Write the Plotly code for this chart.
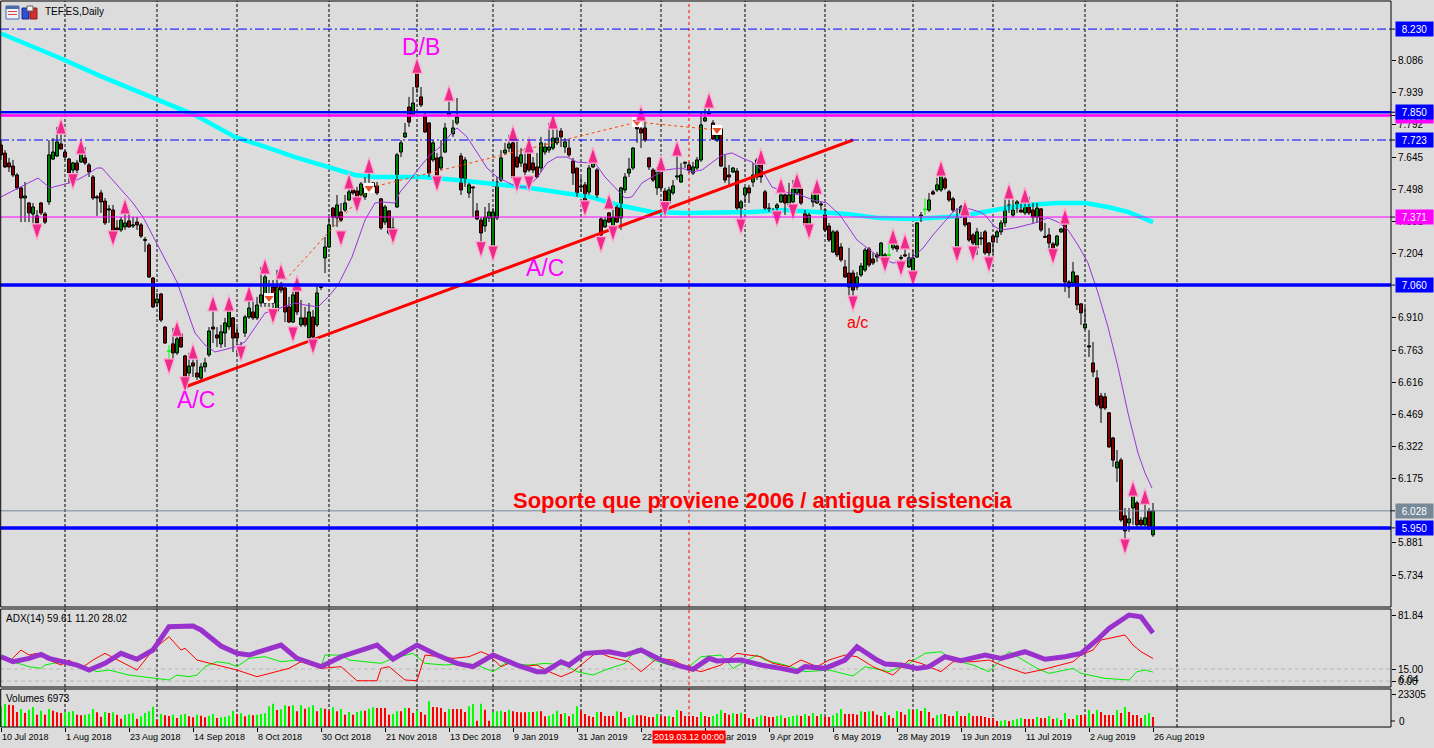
import plotly.graph_objects as go

# ---------------- data ----------------
N = 289
bar_idx = list(range(N))

date_labels = ["10 Jul 2018", "1 Aug 2018", "23 Aug 2018", "14 Sep 2018", "8 Oct 2018",
               "30 Oct 2018", "21 Nov 2018", "13 Dec 2018", "9 Jan 2019", "31 Jan 2019",
               "22 Feb 2019", "18 Mar 2019", "9 Apr 2019", "6 May 2019", "28 May 2019",
               "19 Jun 2019", "11 Jul 2019", "2 Aug 2019", "26 Aug 2019"]
date_label_idx = [0, 16, 32, 48, 64, 80, 96, 112, 128, 144, 160, 176, 192, 208, 224, 240, 256, 272, 288]
month_start_idx = [16, 39, 59, 82, 104, 123, 145, 165, 186, 206, 228, 248, 271, 294]

open_ = [7.700,7.663,7.618,7.604,7.563,7.504,7.458,7.435,7.385,7.376,
 7.435,7.385,7.440,7.636,7.650,7.705,7.668,7.636,7.586,7.618,
 7.623,7.641,7.609,7.554,7.463,7.481,7.444,7.408,7.403,7.321,
 7.312,7.326,7.353,7.330,7.348,7.335,7.268,7.243,7.092,6.978,
 7.019,6.868,6.756,6.791,6.750,6.836,6.736,6.658,6.704,6.658,
 6.635,6.686,6.741,6.868,6.832,6.791,6.841,6.869,6.910,6.841,
 6.768,6.841,6.914,6.937,6.910,6.978,6.978,7.015,7.051,6.942,
 7.060,7.047,6.960,6.891,7.047,6.878,6.910,6.818,6.914,6.878,
 7.053,7.184,7.234,7.412,7.367,7.394,7.403,7.449,7.499,7.490,
 7.472,7.463,7.509,7.527,7.513,7.454,7.348,7.399,7.298,7.417,
 7.668,7.737,7.874,7.837,8.034,7.920,7.833,7.801,7.632,7.641,
 7.595,7.668,7.837,7.751,7.801,7.650,7.540,7.481,7.506,7.399,
 7.357,7.330,7.367,7.207,7.367,7.540,7.664,7.686,7.710,7.645,
 7.618,7.614,7.677,7.618,7.600,7.595,7.668,7.677,7.686,7.710,
 7.764,7.691,7.686,7.627,7.595,7.511,7.518,7.485,7.600,7.586,
 7.362,7.326,7.390,7.326,7.417,7.367,7.495,7.572,7.595,7.783,
 7.774,7.778,7.641,7.586,7.504,7.604,7.490,7.435,7.481,7.554,
 7.531,7.617,7.609,7.572,7.595,7.632,7.810,7.842,7.801,7.723,
 7.774,7.595,7.563,7.577,7.581,7.412,7.472,7.504,7.531,7.554,
 7.645,7.486,7.412,7.394,7.412,7.440,7.472,7.426,7.440,7.481,
 7.499,7.394,7.321,7.440,7.435,7.431,7.403,7.330,7.211,7.303,
 7.234,7.143,7.115,7.115,7.051,7.106,7.129,7.225,7.179,7.198,
 7.184,7.166,7.195,7.230,7.238,7.184,7.198,7.143,7.124,7.188,
 7.357,7.403,7.403,7.486,7.495,7.495,7.545,7.486,7.454,7.207,
 7.380,7.394,7.344,7.289,7.230,7.275,7.303,7.252,7.284,7.280,
 7.303,7.344,7.426,7.380,7.412,7.403,7.390,7.426,7.403,7.371,
 7.408,7.280,7.289,7.248,7.243,7.303,7.367,7.074,7.070,7.102,
 6.974,6.864,6.782,6.704,6.635,6.553,6.549,6.476,6.361,6.224,
 6.260,6.005,5.973,6.041,6.064,5.986,5.964,6.027,5.918]

high = [7.719,7.677,7.641,7.632,7.572,7.509,7.531,7.440,7.435,7.403,
 7.440,7.394,7.723,7.732,7.783,7.783,7.677,7.641,7.623,7.632,
 7.686,7.691,7.618,7.563,7.472,7.495,7.458,7.426,7.426,7.357,
 7.371,7.417,7.403,7.371,7.371,7.344,7.280,7.252,7.097,7.024,
 7.024,6.873,6.786,6.864,6.864,6.841,6.741,6.750,6.741,6.732,
 6.704,6.727,6.868,6.978,6.868,6.878,6.910,6.983,6.914,6.868,
 6.800,6.923,7.024,6.992,7.006,7.143,7.143,7.083,7.083,7.129,
 7.074,7.051,7.006,7.051,7.051,6.992,6.960,6.978,6.946,7.056,
 7.060,7.280,7.371,7.417,7.472,7.435,7.472,7.531,7.509,7.509,
 7.531,7.554,7.609,7.531,7.531,7.458,7.426,7.403,7.367,7.664,
 7.723,7.801,7.920,7.965,8.080,7.965,7.847,7.805,7.723,7.664,
 7.723,7.801,7.929,7.814,7.915,7.664,7.645,7.527,7.509,7.435,
 7.371,7.417,7.435,7.412,7.554,7.677,7.710,7.746,7.746,7.723,
 7.686,7.686,7.737,7.645,7.664,7.737,7.710,7.801,7.792,7.778,
 7.778,7.732,7.723,7.641,7.595,7.554,7.531,7.609,7.655,7.595,
 7.371,7.371,7.394,7.403,7.426,7.509,7.572,7.641,7.691,7.814,
 7.847,7.824,7.645,7.595,7.600,7.609,7.504,7.509,7.540,7.677,
 7.618,7.623,7.623,7.623,7.645,7.847,7.883,7.901,7.814,7.783,
 7.783,7.655,7.609,7.600,7.595,7.449,7.509,7.518,7.618,7.641,
 7.650,7.495,7.435,7.412,7.435,7.495,7.481,7.527,7.540,7.531,
 7.509,7.403,7.390,7.495,7.509,7.440,7.412,7.344,7.312,7.312,
 7.252,7.175,7.230,7.129,7.120,7.161,7.230,7.234,7.207,7.211,
 7.257,7.207,7.257,7.266,7.266,7.198,7.257,7.207,7.220,7.348,
 7.394,7.458,7.481,7.495,7.550,7.595,7.554,7.495,7.463,7.412,
 7.426,7.403,7.348,7.298,7.321,7.303,7.312,7.257,7.289,7.312,
 7.357,7.463,7.486,7.449,7.449,7.435,7.463,7.463,7.435,7.435,
 7.412,7.344,7.321,7.257,7.289,7.321,7.371,7.083,7.166,7.106,
 6.978,6.960,6.855,6.800,6.672,6.567,6.567,6.480,6.366,6.306,
 6.270,6.041,6.041,6.114,6.073,6.000,6.091,6.041,6.064]

low = [7.632,7.595,7.577,7.554,7.495,7.348,7.348,7.348,7.344,7.298,
 7.380,7.339,7.426,7.632,7.645,7.680,7.632,7.527,7.527,7.563,
 7.618,7.609,7.554,7.449,7.376,7.390,7.335,7.344,7.275,7.303,
 7.303,7.312,7.321,7.321,7.312,7.275,7.211,7.092,6.955,6.960,
 6.891,6.791,6.686,6.718,6.741,6.773,6.594,6.626,6.640,6.626,
 6.626,6.663,6.732,6.795,6.777,6.773,6.777,6.855,6.754,6.741,
 6.741,6.823,6.905,6.900,6.900,6.960,6.960,6.960,6.914,6.937,
 7.024,6.891,6.887,6.887,6.923,6.868,6.868,6.809,6.772,6.868,
 7.037,7.115,7.230,7.326,7.326,7.348,7.394,7.444,7.472,7.417,
 7.463,7.449,7.481,7.486,7.472,7.312,7.335,7.289,7.280,7.412,
 7.645,7.732,7.783,7.828,7.938,7.874,7.755,7.554,7.623,7.527,
 7.586,7.664,7.828,7.737,7.792,7.472,7.509,7.458,7.371,7.357,
 7.234,7.303,7.348,7.175,7.357,7.531,7.655,7.668,7.540,7.595,
 7.600,7.563,7.577,7.572,7.550,7.577,7.655,7.664,7.677,7.700,
 7.691,7.664,7.645,7.518,7.463,7.486,7.412,7.472,7.595,7.458,
 7.234,7.321,7.344,7.303,7.344,7.312,7.481,7.554,7.586,7.710,
 7.686,7.714,7.586,7.531,7.472,7.495,7.412,7.435,7.472,7.540,
 7.527,7.595,7.572,7.563,7.586,7.623,7.805,7.837,7.723,7.714,
 7.600,7.527,7.509,7.572,7.403,7.326,7.435,7.435,7.509,7.540,
 7.527,7.403,7.394,7.380,7.357,7.435,7.380,7.417,7.435,7.472,
 7.426,7.321,7.303,7.417,7.431,7.403,7.303,7.257,7.207,7.188,
 7.166,7.092,7.006,6.969,7.037,7.097,7.120,7.143,7.152,7.166,
 7.175,7.161,7.175,7.220,7.211,7.166,7.188,7.138,7.083,7.184,
 7.348,7.380,7.394,7.472,7.486,7.486,7.495,7.440,7.394,7.198,
 7.367,7.326,7.257,7.243,7.198,7.243,7.198,7.147,7.198,7.252,
 7.289,7.326,7.390,7.371,7.390,7.390,7.380,7.380,7.344,7.344,
 7.303,7.275,7.211,7.184,7.234,7.298,7.028,7.001,7.051,6.946,
 6.878,6.855,6.731,6.640,6.503,6.430,6.489,6.316,6.229,6.160,
 5.977,5.859,5.932,5.964,5.955,5.955,5.955,5.940,5.909]

close = [7.655,7.600,7.600,7.563,7.504,7.458,7.467,7.390,7.417,7.344,
 7.390,7.348,7.655,7.668,7.714,7.682,7.645,7.572,7.618,7.586,
 7.677,7.618,7.577,7.458,7.458,7.440,7.344,7.403,7.289,7.312,
 7.357,7.344,7.326,7.335,7.335,7.284,7.264,7.097,6.960,6.996,
 6.900,6.795,6.756,6.750,6.814,6.777,6.640,6.690,6.690,6.640,
 6.686,6.704,6.850,6.859,6.818,6.846,6.887,6.951,6.818,6.818,
 6.754,6.914,6.955,6.910,6.969,7.015,7.097,7.001,6.978,7.051,
 7.037,6.937,6.891,7.015,6.937,6.910,6.878,6.937,6.823,7.024,
 7.049,7.234,7.335,7.371,7.426,7.357,7.435,7.486,7.481,7.426,
 7.522,7.504,7.486,7.509,7.481,7.321,7.417,7.298,7.321,7.655,
 7.710,7.755,7.805,7.892,7.965,7.883,7.760,7.572,7.710,7.554,
 7.645,7.778,7.847,7.778,7.828,7.495,7.632,7.518,7.504,7.362,
 7.298,7.371,7.394,7.394,7.531,7.641,7.677,7.705,7.550,7.600,
 7.655,7.577,7.586,7.586,7.554,7.710,7.691,7.691,7.732,7.732,
 7.737,7.714,7.655,7.572,7.472,7.508,7.435,7.595,7.645,7.472,
 7.289,7.357,7.348,7.371,7.348,7.504,7.554,7.590,7.686,7.774,
 7.755,7.723,7.600,7.540,7.586,7.504,7.417,7.495,7.513,7.559,
 7.563,7.619,7.586,7.600,7.632,7.792,7.824,7.851,7.728,7.746,
 7.604,7.540,7.554,7.595,7.412,7.440,7.504,7.481,7.563,7.632,
 7.554,7.412,7.403,7.390,7.426,7.472,7.435,7.472,7.499,7.518,
 7.435,7.335,7.380,7.481,7.499,7.426,7.312,7.266,7.303,7.198,
 7.175,7.097,7.051,7.037,7.097,7.147,7.220,7.152,7.161,7.188,
 7.252,7.198,7.195,7.252,7.225,7.182,7.193,7.184,7.184,7.344,
 7.380,7.403,7.449,7.476,7.518,7.581,7.504,7.449,7.403,7.380,
 7.417,7.335,7.266,7.252,7.303,7.271,7.207,7.207,7.257,7.303,
 7.344,7.412,7.408,7.403,7.440,7.394,7.426,7.390,7.371,7.412,
 7.312,7.278,7.252,7.211,7.284,7.316,7.074,7.051,7.120,6.969,
 6.933,6.882,6.777,6.663,6.512,6.498,6.498,6.320,6.260,6.251,
 5.986,5.936,5.991,6.110,5.964,5.964,5.996,5.955,6.028]

volume = [14280,16180,15710,15230,10470,12610,9760,12140,14040,8570,
 11420,8570,12610,11420,10230,9760,10230,10710,11190,8570,
 8090,8570,9040,12610,10230,7140,10470,9760,10230,8570,
 5710,8570,9040,9520,5710,7380,9760,10950,14280,5000,
 9040,8090,7620,8570,6190,8570,9040,7380,6660,8570,
 7850,6660,7850,9040,6190,6660,7140,7850,11420,9040,
 9520,7380,8570,8090,8570,9040,9520,14520,16420,11900,
 12380,15230,14520,15230,10950,15230,12850,13800,15230,10950,
 13330,12850,11420,13800,10950,12610,8570,10470,8570,10470,
 11420,11420,12850,13800,13330,13330,13330,8570,9040,10950,
 10950,13330,13330,9760,11420,10470,8570,18090,14040,13800,
 13330,10470,12610,12610,12610,12610,10470,14520,16180,4280,
 16420,12140,4280,10470,10950,11420,10470,12140,10950,10470,
 10230,10230,10470,10470,10950,10950,7380,7850,9040,11420,
 9040,9760,7380,9040,14520,11420,9040,7620,6900,10470,
 10470,7620,7620,7620,10950,10470,6190,6900,8090,8090,
 8090,7620,6900,6900,9040,7620,7380,7620,6900,11900,
 11190,7620,7620,7620,6900,10470,7620,6900,7620,9040,
 11900,9760,8570,9760,9040,10000,9040,6190,5470,6900,
 8090,7620,6900,6900,7620,8090,6190,6900,7620,8090,
 7620,9040,7620,9760,7620,9040,7140,6900,8090,9760,
 12610,9040,9040,9040,8570,10950,10470,10950,10950,8570,
 7620,10470,8090,6190,11190,10470,8570,12610,11900,12610,
 11190,13330,10470,6190,8090,9040,9040,7620,7620,11190,
 7620,7620,9760,7620,7620,7620,6900,6190,6190,4050,
 4280,4760,4050,4760,5470,6190,5470,5470,5470,6900,
 6190,6190,7620,5470,6190,4760,9760,5470,5470,8330,
 8330,8090,11900,9040,11900,10470,8330,8330,8330,11900,
 9760,14040,10470,8330,8330,6190,8330,9760,6973]

# moving averages
ma_fast_idx = [0,4.75,9.25,12.25,14.75,18,20.5,24,25.25,27.25,29.75,33,35.5,39,41.5,44,46.5,48.5,51,53.5,
 58.5,61,66,70.25,73.5,76,79.25,81.75,84.25,87.75,91,93.5,95.25,98.5,99.75,102.25,104.75,107.25,109.75,112.25,
 114,116.5,119,121.5,124,126.5,129,131.5,134,136.5,139,141.5,144,147.25,148.5,151,153.5,156,157.75,160.25,
 162.75,166,170.25,172.75,175.25,177.75,180.25,182.75,185.25,187.75,190.25,192.75,196,199.75,203,206.5,209.75,214,217.25,219.75,
 223,225.5,228,230.5,233,235.5,238,240.5,244.75,246,248.5,250.25,253.5,258.5,261.75,264.25,266.75,269.25,271.75,274.25,
 276.75,279.25,281.75,284.25,286,287.75]
ma_fast_val = [7.463,7.508,7.549,7.504,7.517,7.531,7.554,7.595,7.595,7.554,7.504,7.435,7.371,7.252,7.161,7.074,6.946,6.841,6.786,6.754,
 6.777,6.800,6.932,6.960,6.978,6.969,6.960,7.005,7.060,7.188,7.357,7.435,7.440,7.435,7.485,7.540,7.600,7.654,7.691,7.746,
 7.778,7.737,7.664,7.595,7.554,7.531,7.508,7.508,7.549,7.618,7.645,7.645,7.622,7.618,7.618,7.554,7.504,7.458,7.463,7.527,
 7.554,7.586,7.595,7.577,7.586,7.622,7.654,7.664,7.641,7.622,7.586,7.508,7.485,7.472,7.449,7.435,7.380,7.266,7.220,7.184,
 7.161,7.165,7.188,7.229,7.289,7.344,7.394,7.417,7.394,7.380,7.325,7.312,7.321,7.344,7.367,7.348,7.312,7.243,7.161,7.024,
 6.868,6.685,6.475,6.292,6.201,6.132]

ma_slow_idx = [0,7.25,14.75,24.75,37.25,48.5,58.5,63.5,68.5,73.5,78.5,83.5,88.5,93.5,98.5,105.5,114,122.25,130.5,139,
 147.25,154.25,162.75,171,179.25,187.75,196,203,211.5,219.75,228,236.5,241.5,248.5,256,264.25,271,276.75,281.75,288]
ma_slow_val = [8.210,8.157,8.098,8.016,7.920,7.837,7.737,7.709,7.677,7.645,7.618,7.586,7.563,7.554,7.554,7.554,7.540,7.526,7.508,7.485,
 7.463,7.426,7.394,7.389,7.389,7.394,7.403,7.394,7.385,7.366,7.362,7.371,7.380,7.403,7.426,7.435,7.435,7.417,7.394,7.348]

# ADX(14) lines
adx_idx = [0,3,7,10,12,16,19,22,26,30,34,38,42,48,50,55,59,62,65,70,74,80,85,89,94,98,104,109,114,118,
 123,129,134,136,140,142,146,152,156,160,165,169,173,177,179,185,190,195,199,201,206,211,214,219,221,225,229,232,236,240,
 246,250,256,261,266,270,274,277,282,285,288]
adx_val = [30.2,24.0,28.2,33.1,28.2,24.0,19.9,13.7,22.0,34.4,27.1,38.5,67.4,68.2,63.3,43.4,34.4,32.3,36.4,44.7,
 28.2,17.9,30.2,36.4,44.7,27.1,44.7,32.3,22.0,17.9,32.3,19.9,11.7,11.7,24.0,19.9,34.4,36.4,32.3,38.5,
 26.1,19.9,14.6,28.2,25.0,26.1,19.9,15.8,11.7,17.9,15.8,26.1,42.6,26.1,21.2,19.9,15.8,17.9,30.2,25.3,
 32.3,28.2,36.4,27.1,30.2,34.4,50.9,65.3,81.8,79.5,59.6]
mdi_idx = [0,2,5,7,9,11,15,17,20,23,26,30,34,38,39,42,45,46,49,54,59,64,69,72,75,80,85,89,91,94,
 95,97,101,104,106,110,113,117,120,122,125,127,130,134,137,140,143,149,152,157,160,164,168,172,175,180,184,190,193,197,
 200,204,207,211,214,218,222,223,227,230,235,238,243,247,251,256,260,263,268,270,273,275,277,281,283,285,288]
mdi_val = [30.2,24.0,38.5,32.3,34.4,28.2,19.9,26.1,15.8,26.1,34.4,24.0,13.7,38.5,42.6,55.0,38.5,40.6,26.1,19.9,
 13.7,5.5,11.7,15.8,24.0,15.8,17.9,0.5,0.5,0.5,15.8,17.9,1.4,0.5,32.3,30.2,28.2,30.2,36.4,32.3,
 17.9,22.0,17.9,19.9,11.7,5.5,11.7,36.4,30.2,24.0,11.7,28.2,26.1,15.8,11.7,19.9,34.4,30.2,22.0,17.9,
 26.1,17.9,26.1,32.3,30.2,17.9,9.6,7.5,26.1,22.0,11.7,24.0,24.0,26.1,17.9,9.6,13.7,17.9,24.0,32.3,
 38.5,50.9,52.9,57.1,44.7,36.4,28.02]
pdi_idx = [0,3,7,10,11,15,17,20,24,27,32,36,40,42,44,47,49,51,54,57,59,62,66,70,74,77,80,81,85,87,
 92,95,98,103,106,111,116,119,123,126,132,136,141,144,148,151,156,159,163,167,172,175,180,183,189,191,196,201,207,213,
 216,222,227,231,235,238,243,247,252,256,259,262,266,268,270,276,282,284,286,288]
pdi_val = [32.3,24.0,17.9,15.8,19.9,24.0,19.9,17.9,11.7,13.7,7.5,4.7,2.2,1.4,7.5,5.5,7.5,17.9,24.0,22.0,
 17.9,28.2,30.2,24.0,26.1,22.0,17.9,32.3,32.3,26.1,24.0,22.0,28.2,34.4,22.0,19.9,22.0,19.9,11.7,22.0,
 19.9,22.0,19.9,11.7,7.5,13.7,22.0,40.6,26.1,19.9,17.9,30.2,32.3,15.8,32.3,26.1,19.9,11.7,13.7,6.3,
 17.9,11.7,22.0,34.4,36.4,26.1,19.9,11.7,36.4,24.0,15.8,9.6,13.7,15.8,9.6,3.4,1.4,11.7,13.7,11.2]

# fractal arrows
frac_up_idx = [15,20,31,44,48,53,57,62,66,70,74,87,92,104,112,128,132,138,148,152,160,165,169,177,190,195,199,204,223,226,235,241,252,256,266,283,286]
frac_up_val = [7.824,7.732,7.458,6.900,6.795,7.015,7.015,7.060,7.184,7.161,7.106,7.572,7.645,8.102,7.975,7.792,7.737,7.847,7.691,7.481,
 7.883,7.655,7.723,7.943,7.686,7.554,7.577,7.550,7.321,7.298,7.632,7.449,7.527,7.508,7.412,6.169,6.132]
frac_dn_idx = [9,18,28,42,46,60,68,73,78,85,89,98,109,120,123,129,132,146,150,153,166,185,194,198,202,213,221,225,228,239,243,247,263,281]
frac_dn_val = [7.266,7.495,7.234,6.649,6.567,6.708,6.878,6.795,6.740,7.234,7.389,7.243,7.485,7.184,7.165,7.481,7.485,7.371,7.207,7.257,
 7.367,7.289,7.325,7.357,7.266,6.937,7.115,7.097,7.051,7.161,7.165,7.115,7.152,5.826]

# zigzag and trend line
zz_idx = [67, 92, 159, 179]
zz_val = [7.001, 7.504, 7.805, 7.769]
trend_idx = [46, 213]
trend_val = [6.594, 7.723]

# horizontal levels (price, colour, label)
levels = [(8.230, "#0000FF", "8.230"), (7.835, "#FF00FF", "7.835"), (7.850, "#0000FF", "7.850"),
          (7.723, "#0000FF", "7.723"), (7.371, "#FF00FF", "7.371"), (7.060, "#0000FF", "7.060"),
          (6.028, "#778899", "6.028"), (5.950, "#0000FF", "5.950")]
price_ticks = [8.086, 7.939, 7.792, 7.645, 7.498, 7.351, 7.204, 6.910, 6.763,
               6.616, 6.469, 6.322, 6.175, 5.881, 5.734]
crosshair_idx = 172
crosshair_label = "2019.03.12 00:00"

# ---------------- figure ----------------
W, H = 1434, 748
XR = 1391 / W
BG = "#DCDCDC"
FONT = "Liberation Sans, Arial, sans-serif"


def yp(px):
    return 1 - px / H


fig = go.Figure()

# volumes
vcol = ["#00FF00" if i == 0 or volume[i] > volume[i - 1] else "#FF0000" for i in range(N)]
fig.add_trace(go.Bar(x=bar_idx, y=volume, width=0.3, marker=dict(color=vcol, line=dict(width=0)),
                     xaxis="x", yaxis="y3", hoverinfo="skip"))

# ADX
fig.add_trace(go.Scatter(x=pdi_idx, y=pdi_val, mode="lines", line=dict(color="#00EE00", width=1),
                         xaxis="x", yaxis="y2", hoverinfo="skip"))
fig.add_trace(go.Scatter(x=mdi_idx, y=mdi_val, mode="lines", line=dict(color="#FF0000", width=1),
                         xaxis="x", yaxis="y2", hoverinfo="skip"))
fig.add_trace(go.Scatter(x=adx_idx, y=adx_val, mode="lines", line=dict(color="#9932CC", width=5),
                         xaxis="x", yaxis="y2", hoverinfo="skip"))

# slow MA (behind candles)
fig.add_trace(go.Scatter(x=ma_slow_idx, y=ma_slow_val, mode="lines", line=dict(color="#00FFFF", width=4.5),
                         hoverinfo="skip"))

# candles: wicks
wx, wy, dx, dy = [], [], [], []
for i in range(N):
    if open_[i] == close[i]:
        dx += [i, i, None]
        dy += [low[i], high[i], None]
    else:
        wx += [i, i, None]
        wy += [low[i], high[i], None]
fig.add_trace(go.Scatter(x=wx, y=wy, mode="lines", line=dict(color="black", width=1), hoverinfo="skip"))
fig.add_trace(go.Scatter(x=dx, y=dy, mode="lines", line=dict(color="#00FF00", width=1), hoverinfo="skip"))

# candles: bodies
body_base = [min(o, c) for o, c in zip(open_, close)]
body_h = [max(abs(c - o), 0.0046) for o, c in zip(open_, close)]
body_col = ["#00FF00" if c >= o else "#FF0000" for o, c in zip(open_, close)]
body_line = ["#00FF00" if c == o else "black" for o, c in zip(open_, close)]
fig.add_trace(go.Bar(x=bar_idx, y=body_h, base=body_base, width=0.75,
                     marker=dict(color=body_col, line=dict(color=body_line, width=1)), hoverinfo="skip"))

# fast MA
fig.add_trace(go.Scatter(x=ma_fast_idx, y=ma_fast_val, mode="lines", line=dict(color="#9933DD", width=1),
                         hoverinfo="skip"))

# trend line
fig.add_trace(go.Scatter(x=trend_idx, y=trend_val, mode="lines", line=dict(color="#FF0000", width=3),
                         hoverinfo="skip"))

# zigzag
fig.add_trace(go.Scatter(x=zz_idx, y=zz_val, mode="lines", line=dict(color="#FF4500", width=1, dash="3px,3px"),
                         hoverinfo="skip"))
fig.add_trace(go.Scatter(x=zz_idx, y=zz_val, mode="markers",
                         marker=dict(symbol="square", size=10, color="white", line=dict(width=0)), hoverinfo="skip"))
fig.add_trace(go.Scatter(x=zz_idx, y=zz_val, mode="markers",
                         marker=dict(symbol="triangle-down", size=8, color="#E8502A", line=dict(width=0)),
                         hoverinfo="skip"))

# fractal arrows
fig.add_trace(go.Scatter(x=frac_up_idx, y=frac_up_val, mode="markers",
                         marker=dict(symbol="arrow", angle=0, size=17, color="#EE2A8A",
                                     line=dict(color="#F9B0D2", width=1.2)), hoverinfo="skip"))
fig.add_trace(go.Scatter(x=frac_dn_idx, y=frac_dn_val, mode="markers",
                         marker=dict(symbol="arrow", angle=180, size=17, color="#EE2A8A",
                                     line=dict(color="#F9B0D2", width=1.2)), hoverinfo="skip"))

shapes = []
# month grid lines
for m in month_start_idx:
    shapes.append(dict(type="line", xref="x", yref="paper", x0=m, x1=m, y0=yp(727), y1=yp(1),
                       line=dict(color="black", width=1, dash="3px,2px"), layer="below"))
# crosshair
shapes.append(dict(type="line", xref="x", yref="paper", x0=crosshair_idx, x1=crosshair_idx, y0=yp(727), y1=yp(1),
                   line=dict(color="#FF0000", width=1, dash="3px,3px"), layer="above"))
# horizontal levels
styles = {"8.230": ("dashdot", 1), "7.850": ("solid", 2.5), "7.835": ("solid", 2.5), "7.723": ("dashdot", 1),
          "7.371": ("solid", 1), "7.060": ("solid", 3.5), "6.028": ("solid", 1), "5.950": ("solid", 3.5)}
for price, col, lab in levels:
    dash, wdt = styles[lab]
    if dash == "dashdot":
        dash = "9px,3px,2px,3px"
    shapes.append(dict(type="line", xref="paper", yref="y", x0=0, x1=XR, y0=price, y1=price,
                       line=dict(color=col, width=wdt, dash=dash), layer="above"))
# ADX levels
for lv in (15.0, 0.0):
    shapes.append(dict(type="line", xref="paper", yref="y2", x0=0, x1=XR, y0=lv, y1=lv,
                       line=dict(color="#B8B8B8", width=1, dash="4px,3px"), layer="below"))
# pane frames
for top, bot in ((1, 607), (609, 687), (689, 727)):
    shapes.append(dict(type="rect", xref="paper", yref="paper", x0=0.0005, x1=XR, y0=yp(bot), y1=yp(top),
                       line=dict(color="black", width=1), fillcolor="rgba(0,0,0,0)", layer="above"))
# ticks for labels drawn as boxes / annotations
for price, col, lab in levels:
    shapes.append(dict(type="line", xref="paper", yref="y", x0=XR, x1=1395 / W, y0=price, y1=price,
                       line=dict(color="black", width=1)))
shapes.append(dict(type="line", xref="paper", yref="paper", x0=XR, x1=1395 / W, y0=yp(721), y1=yp(721),
                   line=dict(color="black", width=1)))
# window icons
shapes += [
    dict(type="rect", xref="paper", yref="paper", x0=6 / W, x1=19 / W, y0=yp(19), y1=yp(6),
         line=dict(color="#4A6AA8", width=1), fillcolor="#EEF2FA"),
    dict(type="rect", xref="paper", yref="paper", x0=6 / W, x1=19 / W, y0=yp(9), y1=yp(6),
         line=dict(width=0), fillcolor="#4A6AA8"),
    dict(type="rect", xref="paper", yref="paper", x0=8 / W, x1=17 / W, y0=yp(12), y1=yp(11),
         line=dict(width=0), fillcolor="#E04040"),
    dict(type="rect", xref="paper", yref="paper", x0=8 / W, x1=17 / W, y0=yp(15), y1=yp(14),
         line=dict(width=0), fillcolor="#E04040"),
    dict(type="rect", xref="paper", yref="paper", x0=22 / W, x1=29 / W, y0=yp(19), y1=yp(8),
         line=dict(color="#1A2A90", width=1), fillcolor="#2F4FD0"),
    dict(type="rect", xref="paper", yref="paper", x0=30 / W, x1=37 / W, y0=yp(19), y1=yp(8),
         line=dict(color="#901A1A", width=1), fillcolor="#D03030"),
    dict(type="rect", xref="paper", yref="paper", x0=27 / W, x1=33 / W, y0=yp(11), y1=yp(6),
         line=dict(color="#606060", width=1), fillcolor="#F4F4F4"),
]

ann = []
ann.append(dict(text="TEF.ES,Daily", xref="paper", yref="paper", x=43 / W, y=yp(12), xanchor="left",
                yanchor="middle", showarrow=False, font=dict(family=FONT, size=10, color="black")))
ann.append(dict(text="ADX(14) 59.61 11.20 28.02", xref="paper", yref="paper", x=4 / W, y=yp(618), xanchor="left",
                yanchor="middle", showarrow=False, font=dict(family=FONT, size=10, color="black")))
ann.append(dict(text="Volumes 6973", xref="paper", yref="paper", x=4 / W, y=yp(698), xanchor="left",
                yanchor="middle", showarrow=False, font=dict(family=FONT, size=10, color="black")))
# price boxes
for price, col, lab in levels:
    ann.append(dict(text=lab, xref="paper", yref="y", x=1395 / W, y=price, xanchor="left", yanchor="middle",
                    showarrow=False, bgcolor=col, width=35, height=12, borderpad=1,
                    font=dict(family=FONT, size=10, color="white")))
ann.append(dict(text="6.04", xref="paper", yref="y2", x=1397 / W, y=1.6, xanchor="left", yanchor="middle",
                showarrow=False, font=dict(family=FONT, size=10, color="black")))
ann.append(dict(text="0", xref="paper", yref="paper", x=1397 / W, y=yp(721), xanchor="left", yanchor="middle",
                showarrow=False, font=dict(family=FONT, size=10, color="black")))
# date labels
for i, t in zip(date_label_idx, date_labels):
    ann.append(dict(text=t, xref="x", yref="paper", x=i, y=yp(737), xanchor="left", yanchor="middle", xshift=-1,
                    showarrow=False, font=dict(family=FONT, size=9, color="black")))
ann.append(dict(text=crosshair_label, xref="x", yref="paper", x=crosshair_idx, y=yp(737), xanchor="center",
                yanchor="middle", showarrow=False, bgcolor="#FF0000", borderpad=1,
                font=dict(family=FONT, size=9, color="white")))
# chart texts
ann.append(dict(text="D/B", xref="x", yref="y", x=104.9, y=8.148, showarrow=False,
                font=dict(family=FONT, size=23, color="#FF00FF")))
ann.append(dict(text="A/C", xref="x", yref="y", x=136, y=7.138, showarrow=False,
                font=dict(family=FONT, size=23, color="#FF00FF")))
ann.append(dict(text="A/C", xref="x", yref="y", x=48.75, y=6.535, showarrow=False,
                font=dict(family=FONT, size=23, color="#FF00FF")))
ann.append(dict(text="a/c", xref="x", yref="y", x=214, y=6.887, showarrow=False,
                font=dict(family=FONT, size=16, color="#FF0000")))
ann.append(dict(text="<b>Soporte que proviene 2006 / antigua resistencia</b>", xref="x", yref="y",
                x=190.5, y=6.073, showarrow=False, font=dict(family=FONT, size=22, color="#FF0000")))

axis_font = dict(family=FONT, size=10, color="black")
fig.update_layout(
    width=W, height=H, autosize=False, margin=dict(l=0, r=0, t=0, b=0),
    paper_bgcolor=BG, plot_bgcolor=BG, showlegend=False, barmode="overlay", hovermode=False,
    xaxis=dict(domain=[0, XR], range=[-0.25, 347.5], anchor="y3", showgrid=False, zeroline=False,
               showline=False, tickvals=date_label_idx, ticks="outside", ticklen=4, tickcolor="black",
               showticklabels=False),
    yaxis=dict(domain=[yp(607), yp(1)], range=[5.5884, 8.3584], side="right", anchor="x", showgrid=False,
               zeroline=False, showline=False, tickvals=price_ticks, ticktext=[f"{v:.3f}" for v in price_ticks],
               ticks="outside", ticklen=4, tickcolor="black", tickfont=axis_font),
    yaxis2=dict(domain=[yp(687), yp(609)], range=[-7.28, 89.28], side="right", anchor="x", showgrid=False,
                zeroline=False, showline=False, tickvals=[81.84, 15.0, 0.0], ticktext=["81.84", "15.00", "0.00"],
                ticks="outside", ticklen=4, tickcolor="black", tickfont=axis_font),
    yaxis3=dict(domain=[yp(727), yp(689)], range=[-214, 26870], side="right", anchor="x", showgrid=False,
                zeroline=False, showline=False, tickvals=[23305], ticktext=["23305"],
                ticks="outside", ticklen=4, tickcolor="black", tickfont=axis_font),
    shapes=shapes, annotations=ann,
)

fig.write_html("out.html", config={"displayModeBar": False},
               post_script="document.body.style.margin='0';document.body.style.overflow='hidden';"
                           "document.body.style.background='#DCDCDC';")
